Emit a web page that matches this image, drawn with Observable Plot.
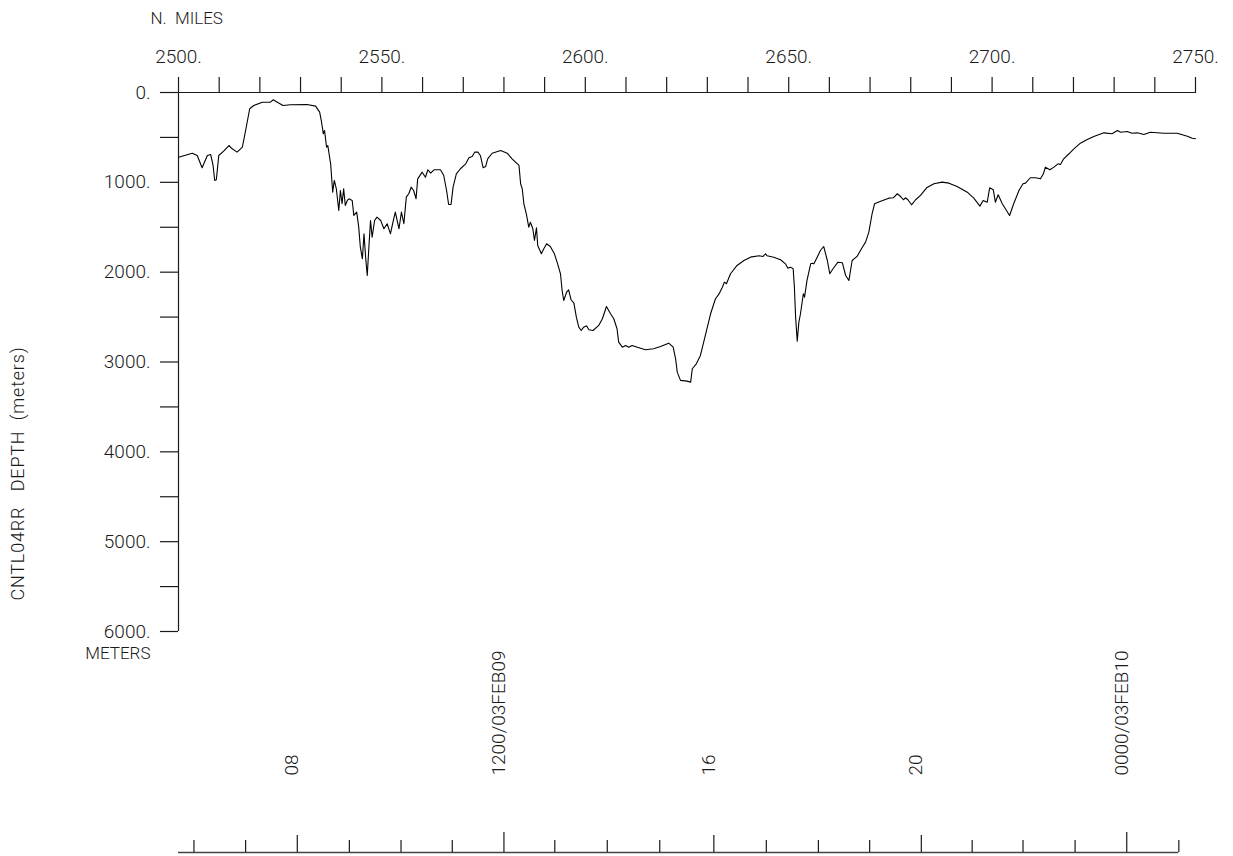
<!DOCTYPE html>
<html><head><meta charset="utf-8">
<script src="https://cdn.jsdelivr.net/npm/d3@7"></script>
<script src="https://cdn.jsdelivr.net/npm/@observablehq/plot@0.6"></script>
<style>
html,body{margin:0;padding:0;background:#fff;}
#chart svg{display:block;}
svg text{white-space:pre;}
</style></head><body><div id="chart"></div>
<script>
// ---- data ----
const miles = [2500.0,2503.4,2504.6,2505.8,2507.1,2507.9,2508.5,2508.9,2509.3,2509.9,2511.1,2512.4,2513.2,2514.4,2515.7,2516.5,2517.5,2518.5,2520.6,2522.6,2523.3,2524.3,2525.7,2527.5,2531.6,2533.7,2534.7,2535.1,2535.6,2535.9,2536.4,2536.7,2537.4,2537.9,2538.3,2538.8,2539.4,2539.8,2540.2,2540.6,2541.0,2541.5,2541.9,2542.7,2543.1,2543.8,2544.3,2544.7,2545.2,2545.6,2546.0,2546.4,2546.8,2547.2,2547.6,2548.2,2548.8,2549.7,2550.5,2551.3,2552.1,2552.8,2553.3,2554.2,2554.8,2555.4,2556.0,2556.6,2557.2,2557.8,2558.4,2558.8,2559.9,2560.7,2561.3,2562.0,2562.8,2564.4,2565.2,2565.9,2566.4,2567.0,2567.5,2568.3,2569.3,2570.6,2571.4,2572.2,2572.8,2573.6,2574.2,2574.9,2575.5,2576.0,2577.1,2579.2,2580.8,2582.0,2583.7,2584.1,2584.5,2584.9,2585.5,2586.1,2586.5,2587.1,2587.5,2588.0,2588.3,2589.2,2589.8,2590.5,2591.4,2592.4,2593.2,2593.9,2594.3,2594.7,2595.4,2595.9,2596.5,2597.2,2597.8,2598.4,2599.0,2599.6,2600.3,2600.9,2601.9,2603.3,2604.2,2605.2,2606.2,2607.0,2607.8,2608.2,2609.1,2609.9,2610.7,2611.5,2612.8,2614.8,2616.8,2618.5,2620.5,2621.6,2622.2,2622.6,2623.4,2625.0,2625.9,2626.3,2627.3,2628.3,2629.6,2630.8,2632.0,2632.8,2633.7,2634.2,2634.7,2635.7,2637.3,2639.0,2640.6,2642.7,2643.7,2644.3,2644.7,2646.3,2648.0,2649.2,2649.8,2650.4,2651.1,2651.4,2651.7,2652.1,2652.5,2652.9,2653.6,2653.9,2654.5,2655.4,2655.8,2656.2,2657.0,2657.8,2658.6,2659.5,2660.1,2660.9,2662.1,2663.2,2664.0,2664.8,2665.6,2666.8,2668.1,2668.9,2669.7,2670.5,2671.1,2672.6,2674.6,2675.7,2676.7,2677.5,2678.2,2678.7,2679.3,2680.2,2681.2,2682.4,2683.9,2685.7,2687.7,2689.4,2691.4,2693.9,2695.5,2697.0,2697.8,2698.8,2699.4,2700.3,2700.8,2701.5,2702.5,2704.3,2705.3,2706.6,2707.6,2708.2,2709.4,2710.7,2711.9,2712.6,2713.1,2714.2,2715.2,2716.2,2716.8,2717.6,2718.9,2720.1,2721.7,2723.4,2725.0,2727.5,2729.5,2730.8,2731.6,2733.2,2734.4,2735.7,2737.3,2738.9,2742.2,2745.5,2748.0,2749.2,2750.0];
const depths = [720,676,701,838,701,690,812,979,972,701,653,590,627,664,609,423,181,145,108,108,81,108,145,137,134,152,219,312,460,423,609,590,794,1110,979,1072,1313,1091,1239,1072,1258,1202,1183,1202,1369,1332,1499,1722,1851,1573,1833,2037,1722,1425,1611,1425,1388,1425,1517,1461,1573,1425,1332,1517,1332,1461,1165,1127,1054,1091,1183,961,887,943,860,898,860,860,924,1091,1247,1247,1054,905,849,794,727,712,664,664,701,838,824,738,676,646,676,738,812,1016,1072,1239,1350,1499,1444,1517,1647,1506,1703,1795,1740,1684,1714,1795,1907,2018,2204,2315,2223,2196,2307,2345,2501,2612,2649,2612,2597,2641,2649,2593,2519,2382,2463,2519,2630,2779,2835,2816,2835,2816,2835,2864,2853,2827,2790,2835,2964,3113,3205,3213,3224,3075,3020,2927,2686,2463,2296,2248,2167,2111,2129,2018,1925,1870,1833,1818,1825,1795,1818,1833,1862,1907,1956,1944,1962,2167,2501,2768,2557,2463,2240,2278,2092,1907,1900,1907,1833,1759,1714,1870,2018,1962,1889,1896,2037,2092,1870,1825,1722,1666,1555,1350,1239,1210,1176,1172,1127,1158,1194,1172,1194,1250,1194,1146,1061,1016,998,1009,1046,1110,1176,1265,1202,1221,1061,1083,1221,1139,1239,1369,1239,1091,1016,1009,949,949,961,905,831,860,831,794,801,738,682,627,564,523,490,449,460,423,442,434,453,449,467,442,453,453,486,509,515];

const distTicks = d3.range(2500, 2751, 10);
const distLabels = d3.range(2500, 2751, 50);
const depthTicks = d3.range(0, 6001, 500);
const depthLabels = d3.range(0, 6001, 1000);

// hour ticks of the ship's clock, located by distance along track
const timeMiles = [2503.8,2516.5,2529.2,2542.0,2554.7,2567.3,2580.0,2592.5,2605.4,2618.3,2631.6,2644.5,2657.3,2669.9,2682.6,2695.1,2707.6,2720.4,2733.1,2745.9];
const timeHours = ["06","07","08","09","10","11","12","13","14","15","16","17","18","19","20","21","22","23","00","01"];
const timeLabels = {"08":"08","12":"1200/03FEB09","16":"16","20":"20","00":"0000/03FEB10"};
const dateHours = ["12","00"];

const xTitle = "N.  MILES";
const yTitle = "CNTL04RR   DEPTH  (meters)";
const yUnit = "METERS";

// ---- chart ----
const W = 1233;
const FONT = "Roboto, 'Open Sans', 'DejaVu Sans', sans-serif";
const INK = "#1a1a1a";
const profile = miles.map((m, i) => ({mile: m, depth: depths[i]}));
const timeData = timeMiles.map((m, i) => ({
  mile: m, hour: timeHours[i], label: timeLabels[timeHours[i]] || "",
  kind: dateHours.includes(timeHours[i]) ? "date" : (timeLabels[timeHours[i]] ? "major" : "minor")
}));

const style = {fontFamily: FONT, fontSize: "19px", fontWeight: 300, color: INK, background: "#fff", overflow: "visible"};

const main = Plot.plot({
  width: W, height: 660,
  marginLeft: 178, marginRight: 38, marginTop: 92, marginBottom: 29,
  style,
  x: {domain: [2500, 2750]},
  y: {domain: [0, 6000], reverse: true},
  marks: [
    Plot.axisX(distTicks, {anchor: "top", tickSize: 16, fill: "none", label: null, stroke: INK, strokeWidth: 1.2}),
    Plot.axisY(depthTicks, {anchor: "left", tickSize: 18, fill: "none", label: null, stroke: INK, strokeWidth: 1.2}),
    Plot.ruleY([0], {stroke: INK, strokeWidth: 1.2}),
    Plot.ruleX([2500], {stroke: INK, strokeWidth: 1.2}),
    Plot.text(distLabels, {x: d => d, text: d => d + ".", frameAnchor: "top", lineAnchor: "middle", dy: -36, fill: INK}),
    Plot.text(depthLabels, {y: d => d, text: d => d + ".", frameAnchor: "left", lineAnchor: "middle", dx: -28, textAnchor: "end", fill: INK}),
    Plot.text([xTitle], {text: d => d, frameAnchor: "top-left", lineAnchor: "middle", dx: -28, dy: -74, textAnchor: "start", fontSize: 17, fill: INK}),
    Plot.text([yUnit], {text: d => d, frameAnchor: "bottom-left", lineAnchor: "middle", dx: -28, dy: 22, textAnchor: "end", fontSize: 17, fill: INK}),
    Plot.text([yTitle], {text: d => d, frameAnchor: "bottom-left", lineAnchor: "middle", dx: -160, dy: -31, rotate: -90, textAnchor: "start", fontSize: 18, fill: INK}),
    Plot.line(profile, {x: "mile", y: "depth", stroke: "#000", strokeWidth: 1.1})
  ]
});

const bottom = Plot.plot({
  width: W, height: 196,
  marginLeft: 178, marginRight: 38, marginTop: 0, marginBottom: 4,
  style,
  x: {domain: [2500, 2750], axis: null},
  y: {domain: [0, 1], axis: null},
  marks: [
    Plot.ruleY([0], {x1: 2500, x2: timeMiles[timeMiles.length - 1], stroke: "#444", strokeWidth: 1.6}),
    Plot.tickX(timeData.filter(d => d.kind === "minor"), {x: "mile", insetTop: 180, stroke: INK, strokeWidth: 1.2}),
    Plot.tickX(timeData.filter(d => d.kind === "major"), {x: "mile", insetTop: 175, stroke: INK, strokeWidth: 1.2}),
    Plot.tickX(timeData.filter(d => d.kind === "date"), {x: "mile", insetTop: 172, stroke: INK, strokeWidth: 1.2}),
    Plot.text(timeData.filter(d => d.label), {x: "mile", text: "label", rotate: -90, textAnchor: "start", frameAnchor: "bottom", lineAnchor: "bottom", dy: -77, dx: 1, fill: INK})
  ]
});

// slightly open lettering of the rotated depth title
d3.select(main).selectAll("text").filter(function() { return this.textContent === yTitle; })
  .style("letter-spacing", "0.8px");

const root = document.getElementById("chart");
root.appendChild(main);
root.appendChild(bottom);
</script>
</body></html>
